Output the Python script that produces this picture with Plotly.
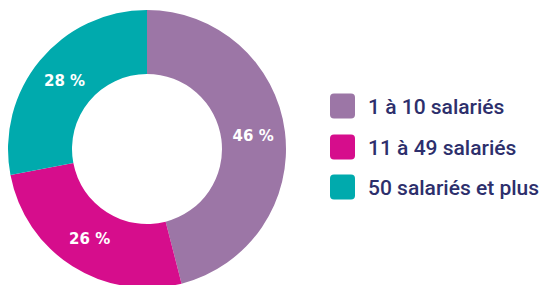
import plotly.graph_objects as go

categories = ["1 à 10 salariés", "11 à 49 salariés", "50 salariés et plus"]
values = [46, 26, 28]
colors = ["#9C76A6", "#D60D8C", "#00AAAD"]

W, H = 544, 288
cx, cy, R = 147, 149, 139

fig = go.Figure(go.Pie(
    labels=categories,
    values=values,
    text=[f"{v} %" for v in values],
    textinfo="text",
    textposition="inside",
    insidetextorientation="horizontal",
    textfont=dict(family="DejaVu Sans", size=15, color="white", weight="bold"),
    marker=dict(colors=colors, line=dict(width=0)),
    hole=75 / R,
    sort=False,
    direction="clockwise",
    rotation=0,
    showlegend=False,
    hoverinfo="label+percent",
    domain=dict(x=[(cx - R) / W, (cx + R) / W], y=[max(0, (H - cy - R) / H), (H - cy + R) / H]),
))

# Custom legend (large rounded squares) built from categories/colors
sq_x0, sq_size, rad = 330, 25, 4
row_y = [106, 147, 187]
shapes, annotations = [], []

def px(x):
    return x / W

def py(y):
    return (H - y) / H

for name, col, yc in zip(categories, colors, row_y):
    x0, x1 = sq_x0, sq_x0 + sq_size
    y0, y1 = yc - sq_size / 2, yc + sq_size / 2
    path = (f"M {px(x0+rad)},{py(y0)} L {px(x1-rad)},{py(y0)} Q {px(x1)},{py(y0)} {px(x1)},{py(y0+rad)} "
            f"L {px(x1)},{py(y1-rad)} Q {px(x1)},{py(y1)} {px(x1-rad)},{py(y1)} "
            f"L {px(x0+rad)},{py(y1)} Q {px(x0)},{py(y1)} {px(x0)},{py(y1-rad)} "
            f"L {px(x0)},{py(y0+rad)} Q {px(x0)},{py(y0)} {px(x0+rad)},{py(y0)} Z")
    shapes.append(dict(type="path", path=path, xref="paper", yref="paper",
                       fillcolor=col, line=dict(width=0)))
    annotations.append(dict(text=name, x=366 / W, y=py(yc + 1), xref="paper", yref="paper",
                            xanchor="left", yanchor="middle", showarrow=False,
                            font=dict(family="Roboto", size=21, color="#2D2F6C", weight=500)))

fig.update_layout(
    width=W, height=H,
    margin=dict(l=0, r=0, t=0, b=0),
    paper_bgcolor="white", plot_bgcolor="white",
    shapes=shapes, annotations=annotations,
)

fig.write_html(
    "out.html",
    config={"displayModeBar": False},
    post_script="document.body.style.margin='0';document.body.style.overflow='hidden';",
)
